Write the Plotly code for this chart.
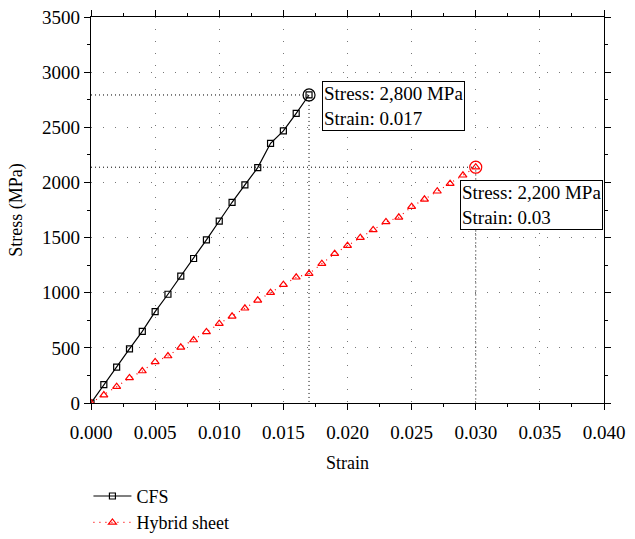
import plotly.graph_objects as go

cfs_strain = [i * 0.001 for i in range(18)]
cfs_stress = [0, 166, 326, 490, 650, 828, 986, 1150, 1310, 1480, 1650, 1820,
              1977, 2134, 2355, 2467, 2627, 2793]
hyb_strain = [i * 0.001 for i in range(31)]
hyb_stress = [0, 72, 148, 227, 290, 372, 426, 505, 571, 644, 719, 786, 859, 931,
              1000, 1073, 1140, 1173, 1263, 1354, 1427, 1499, 1569, 1642, 1684,
              1780, 1847, 1920, 1989, 2065, 2138]
cfs_label = "Stress: 2,800 MPa<br>Strain: 0.017"
hyb_label = "Stress: 2,200 MPa<br>Strain: 0.03"
x_ticks = [0, 0.005, 0.010, 0.015, 0.020, 0.025, 0.030, 0.035, 0.040]
y_ticks = [0, 500, 1000, 1500, 2000, 2500, 3000, 3500]

FONT = "Liberation Serif"
fig = go.Figure()

# reference dotted lines to peaks
for xs, ys in [(cfs_strain, cfs_stress), (hyb_strain, hyb_stress)]:
    px, py = xs[-1], ys[-1]
    fig.add_trace(go.Scatter(x=[0, px, px], y=[py, py, 0], mode="lines",
                             line=dict(color="black", width=1, dash="1px,3px"),
                             showlegend=False, hoverinfo="skip"))

fig.add_trace(go.Scatter(x=cfs_strain, y=cfs_stress, mode="lines+markers", name="CFS",
                         line=dict(color="black", width=1.2),
                         marker=dict(symbol="square-open", size=6, color="black",
                                     line=dict(width=1.2))))
fig.add_trace(go.Scatter(x=hyb_strain, y=hyb_stress, mode="lines+markers", name="Hybrid sheet",
                         line=dict(color="red", width=1.2, dash="1px,5px"),
                         marker=dict(symbol="triangle-up-open", size=7, color="red",
                                     line=dict(width=1.2))))
# peak circles
fig.add_trace(go.Scatter(x=[cfs_strain[-1]], y=[cfs_stress[-1]], mode="markers",
                         marker=dict(symbol="circle-open", size=12, color="black",
                                     line=dict(width=1.2)),
                         showlegend=False, hoverinfo="skip"))
fig.add_trace(go.Scatter(x=[hyb_strain[-1]], y=[hyb_stress[-1]], mode="markers",
                         marker=dict(symbol="circle-open", size=12, color="red",
                                     line=dict(width=1.2)),
                         showlegend=False, hoverinfo="skip"))

fig.add_annotation(x=cfs_strain[-1], y=cfs_stress[-1], text=cfs_label, showarrow=False,
                   xanchor="left", yanchor="top", xshift=13, yshift=14, align="left",
                   bordercolor="black", borderwidth=1, borderpad=1, bgcolor="white",
                   font=dict(family=FONT, size=19, color="black"))
fig.add_annotation(x=hyb_strain[-1], y=hyb_stress[-1], text=hyb_label, showarrow=False,
                   xanchor="left", yanchor="top", xshift=-16, yshift=-13, align="left",
                   bordercolor="black", borderwidth=1, borderpad=1, bgcolor="white",
                   font=dict(family=FONT, size=19, color="black"))

axis_common = dict(showline=True, linecolor="black", linewidth=1.2, mirror="allticks",
                   ticks="outside", ticklen=6, tickcolor="black", tickwidth=1.2,
                   showgrid=True, gridcolor="#777", griddash="1px,11px", gridwidth=1,
                   zeroline=False,
                   tickfont=dict(family=FONT, size=19, color="black"),
                   title_font=dict(family=FONT, size=18, color="black"))
fig.update_xaxes(range=[0, 0.040], tickvals=x_ticks, tickformat=".3f",
                 ticklabelstandoff=6,
                 minor=dict(dtick=0.0025, ticks="outside", ticklen=3, tickcolor="black",
                            showgrid=False),
                 title_text="Strain", title_standoff=14, **axis_common)
fig.update_yaxes(range=[0, 3500], tickvals=y_ticks, domain=[0.2461, 1],
                 minor=dict(dtick=250, ticks="outside", ticklen=3, tickcolor="black",
                            showgrid=False),
                 title_text="Stress (MPa)", title_standoff=14, **axis_common)

fig.update_layout(width=635, height=539, plot_bgcolor="white", paper_bgcolor="white",
                  font=dict(family=FONT),
                  margin=dict(l=91, r=31, t=17, b=10, autoexpand=False),
                  legend=dict(x=-0.005, y=0.1, xanchor="left", yanchor="top",
                              font=dict(family=FONT, size=18, color="black"),
                              bgcolor="rgba(0,0,0,0)", tracegroupgap=0, itemwidth=38),
                  showlegend=True)

fig.write_html("out.html")
